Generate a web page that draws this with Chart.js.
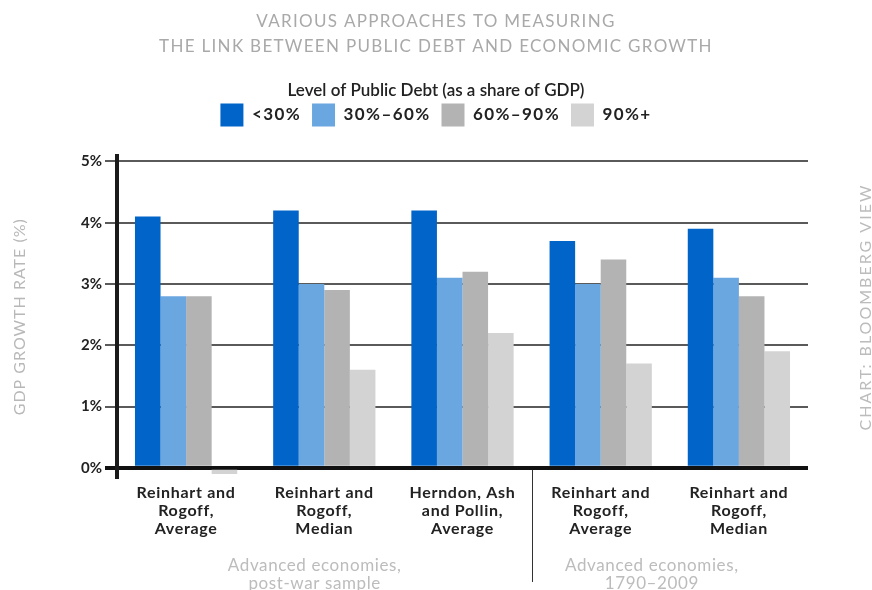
<!DOCTYPE html>
<html>
<head>
<meta charset="utf-8">
<script src="https://cdn.jsdelivr.net/npm/chart.js@4/dist/chart.umd.min.js"></script>
<style>
  html, body { margin: 0; padding: 0; background: #fff; }
  #wrap { width: 872px; height: 590px; }
</style>
</head>
<body>
<div id="wrap"><canvas id="c" width="872" height="590"></canvas></div>
<script>
// Growth rates by public-debt band for each study / statistic
const categories = [
  ["Reinhart and", "Rogoff,", "Average"],
  ["Reinhart and", "Rogoff,", "Median"],
  ["Herndon, Ash", "and Pollin,", "Average"],
  ["Reinhart and", "Rogoff,", "Average"],
  ["Reinhart and", "Rogoff,", "Median"]
];
const debtLevels = ["<30%", "30%–60%", "60%–90%", "90%+"];
const under30 = [4.1, 4.2, 4.2, 3.7, 3.9];
const from30to60 = [2.8, 3.0, 3.1, 3.0, 3.1];
const from60to90 = [2.8, 2.9, 3.2, 3.4, 2.8];
const over90 = [-0.1, 1.6, 2.2, 1.7, 1.9];
const yTicks = [0, 1, 2, 3, 4, 5];
const sampleGroups = [
  ["Advanced economies,", "post-war sample"],
  ["Advanced economies,", "1790–2009"]
];

const colors = ["#0064c9", "#6aa6e0", "#b3b3b3", "#d3d3d3"];
const FONT = "Lato, 'Open Sans', sans-serif";

// Run a chart element's method with tracked-out lettering,
// then leave the context at `after` (defaults to no tracking)
function spaced(obj, method, spacing, after) {
  const orig = obj[method];
  if (typeof orig !== "function") return;
  obj[method] = function (...args) {
    const ctx = obj.ctx || obj.chart.ctx;
    ctx.letterSpacing = spacing;
    const r = orig.apply(this, args);
    ctx.letterSpacing = after || "0px";
    return r;
  };
}

const LEGEND_SPACING = "1.4px";

const lettering = {
  id: "lettering",
  beforeLayout(chart) {
    if (chart.$lettered) return;
    chart.$lettered = true;
    spaced(chart.titleBlock, "draw", "1.3px");
    spaced(chart.legend, "fit", LEGEND_SPACING);
    spaced(chart.legend, "draw", LEGEND_SPACING);
    spaced(chart.legend, "drawTitle", "0px", LEGEND_SPACING);
    spaced(chart.scales.x, "drawLabels", "0.7px");
    spaced(chart.scales.y, "drawTitle", "1px");
  }
};

// Sample-group captions, divider and credit line
const annotations = {
  id: "annotations",
  afterDraw(chart) {
    const ctx = chart.ctx;
    const x = chart.scales.x, y = chart.scales.y;
    const zero = y.getPixelForValue(0);
    ctx.save();
    // divider between the two samples
    const sx = Math.round(x.getPixelForValue(2.5)) + 0.5;
    ctx.strokeStyle = "#333";
    ctx.lineWidth = 1;
    ctx.beginPath();
    ctx.moveTo(sx, zero + 2);
    ctx.lineTo(sx, 582);
    ctx.stroke();
    // sample captions
    ctx.fillStyle = "#bcbcbc";
    ctx.font = "17px " + FONT;
    ctx.letterSpacing = "0.6px";
    ctx.textAlign = "center";
    ctx.textBaseline = "middle";
    const centers = [0.93, 3.37];
    sampleGroups.forEach((lines, i) => {
      const cx = x.getPixelForValue(centers[i]);
      lines.forEach((t, j) => ctx.fillText(t, cx, 566 + j * 18));
    });
    // credit, rotated on the right edge
    ctx.translate(866, 307);
    ctx.rotate(-Math.PI / 2);
    ctx.font = "16px " + FONT;
    ctx.letterSpacing = "2px";
    ctx.fillStyle = "#bcbcbc";
    ctx.fillText("CHART: BLOOMBERG VIEW", 0, 0);
    ctx.restore();
  }
};

new Chart(document.getElementById("c"), {
  type: "bar",
  data: {
    labels: categories,
    datasets: [under30, from30to60, from60to90, over90].map((d, i) => ({
      label: debtLevels[i],
      data: d,
      backgroundColor: colors[i],
      borderWidth: 0,
      categoryPercentage: 0.74,
      barPercentage: 1.0
    }))
  },
  options: {
    responsive: false,
    animation: false,
    devicePixelRatio: 1,
    layout: { padding: 0 },
    plugins: {
      title: {
        display: true,
        text: ["VARIOUS APPROACHES TO MEASURING", "THE LINK BETWEEN PUBLIC DEBT AND ECONOMIC GROWTH"],
        color: "#a9a9a9",
        font: { family: FONT, size: 17, weight: "normal", lineHeight: 1.47 },
        padding: { top: 9, bottom: 23.5 }
      },
      legend: {
        position: "top",
        align: "center",
        title: {
          display: true,
          text: "Level of Public Debt (as a share of GDP)",
          color: "#222",
          font: { family: FONT, size: 17, weight: "600", lineHeight: 1 },
          padding: { top: 0, bottom: -7 }
        },
        labels: {
          boxWidth: 23,
          boxHeight: 23,
          padding: 11,
          color: "#222",
          font: { family: FONT, size: 17, weight: "bold" }
        }
      },
      tooltip: { enabled: false }
    },
    scales: {
      x: {
        grid: { display: false, drawTicks: false },
        border: { display: false },
        ticks: {
          color: "#222",
          font: { family: FONT, size: 16, weight: "bold", lineHeight: 1.125 },
          padding: 7,
          maxRotation: 0,
          autoSkip: false
        },
        afterFit(s) { s.height = 113; }
      },
      // spacer between legend and plot
      xTop: {
        type: "category",
        position: "top",
        grid: { display: false, drawTicks: false },
        border: { display: false },
        ticks: { display: false },
        afterFit(s) { s.height = 20; }
      },
      y: {
        min: -0.15,
        max: 5.08,
        afterBuildTicks(s) { s.ticks = yTicks.map(v => ({ value: v })); },
        ticks: {
          callback: v => v + "%",
          color: "#222",
          font: { family: FONT, size: 15, weight: "bold" },
          padding: 3
        },
        grid: {
          color: c => (c.tick && c.tick.value === 0 ? "#111" : "#5a5a5a"),
          lineWidth: c => (c.tick && c.tick.value === 0 ? 4 : 2),
          tickLength: 12
        },
        border: { color: "#1a1a1a", width: 4 },
        title: {
          display: true,
          text: "GDP GROWTH RATE (%)",
          color: "#b8b8b8",
          font: { family: FONT, size: 16, weight: "normal" },
          padding: { top: 10, bottom: 0 }
        },
        afterFit(s) { s.width = 117; }
      },
      // reserves the right margin that holds the credit line
      yRight: {
        type: "linear",
        position: "right",
        grid: { display: false, drawTicks: false },
        border: { display: false },
        ticks: { display: false },
        afterFit(s) { s.width = 64; }
      }
    }
  },
  plugins: [lettering, annotations]
});
</script>
</body>
</html>
